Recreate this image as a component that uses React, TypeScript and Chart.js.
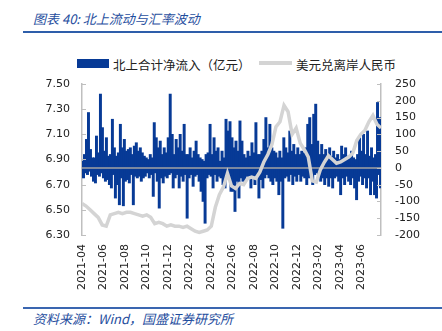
import React, { useEffect, useRef } from 'react';
import { Chart, registerables } from 'chart.js';

Chart.register(...registerables);

// x axis spans months from 2021-04 (0) to late 2023-07
const SPAN_MONTHS = 27.8;

const monthLabels = [
  '2021-04', '2021-06', '2021-08', '2021-10', '2021-12', '2022-02', '2022-04',
  '2022-06', '2022-08', '2022-10', '2022-12', '2023-02', '2023-04', '2023-06',
];

const leftTicks = [6.3, 6.5, 6.7, 6.9, 7.1, 7.3, 7.5];

// 北上合计净流入（亿元）, in time order
const netInflow = [
  20, -30, 40, -15, 85, -20, 165, -10, 55, -25, 30, -40, 30, -45, 95, -20, 45, -25, 220, -15,
  120, -30, 50, -40, 90, -35, 35, -50, 40, -60, 145, -20, 60, -90, 35, -50, 45, -110, 130, -30,
  60, -113, 85, -40, 50, -35, 55, -45, 60, -20, 40, -110, 65, -25, 75, -30, 50, -25, 60, -40,
  45, -30, 35, -25, 30, -15, 25, -30, 40, -20, 30, -85, 135, -15, 90, -40,
  60, -120, 80, -30, 40, -45, 60, -25, 45, -30, 90, -20, 220, -15, 100, -60, 40, -30, 85, -20,
  60, -60, 100, -25, 50, -40, 130, -20, 40, -150, 40, -30, 60, -20, 30, -55, 50, -25, 80, -20,
  40, -40, 30, -70, 25, -100, 20, -165, 40, -30, 45, -20, 130, -25, 40, -60, 90, -20, 50, -40,
  60, -25, 20, -30, 50, -50, 30, -60, 145, -20, 110, -30, 138, -70, 90, -70,
  60, -130, 80, -40, 50, -90, 140, -30, 80, -40, 40, -40, 30, -25, 50, -30, 35, -60, 75, -30,
  45, -50, 135, -25, 40, -90, 40, -35, 50, -60, 85, -30, 150, -20, 60, -30, 130, -40, 60, -50,
  50, -30, 45, -40, 30, -80, 50, -40, 30, -180, 90, -30, 60, -25, 45, -40, 110, -20, 50, -50,
  70, -25, 40, -40, 60, -20, 40, -40, 50, -25, 45, -30, 60, -50,
  130, -30, 150, -20, 70, -50, 160, -20, 190, -15, 80, -25, 40, -40, 70, -30, 40, -50, 55, -30,
  30, -55, 60, -30, 35, -60, 50, -30, 30, -25, 40, -40, 25, -80, 65, -30, 40, -50, 60, -25,
  35, -40, 30, -50, 50, -30, 30, -60, 25, -95, 40, -40, 90, -25, 50, -50, 100, -30, 40, -60,
  110, -30, 35, -80, 60, -40, 30, -80, 40, -90, 195, -20, 150, -60,
];

// 美元兑离岸人民币
const usdCnh = [
  6.55, 6.53, 6.50, 6.47, 6.44, 6.38, 6.37, 6.46, 6.47, 6.48, 6.47, 6.48, 6.48, 6.47, 6.46,
  6.45, 6.46, 6.44, 6.39, 6.40, 6.39, 6.37, 6.38, 6.37, 6.37, 6.36, 6.37, 6.35, 6.33, 6.32,
  6.33, 6.34, 6.37, 6.52, 6.62, 6.68, 6.79, 6.69, 6.67, 6.71, 6.70, 6.75, 6.76, 6.75, 6.80,
  6.88, 6.94, 7.02, 7.16, 7.20, 7.33, 7.28, 7.10, 7.15, 7.03, 6.98, 6.92, 6.73, 6.72, 6.82,
  6.88, 6.93, 6.90, 6.87, 6.88, 6.90, 6.92, 6.95, 7.05, 7.10, 7.13, 7.20, 7.25, 7.18, 7.15,
];

const BAR_COLOR = '#073a96';
const LINE_COLOR = '#d4d4d4';
const AXIS_COLOR = '#bfbfbf';
const TEXT_BLUE = '#1f4e9e';
const tickFont = { family: "'DejaVu Sans', Verdana, sans-serif", size: 11 };

export default function App() {
  const ref = useRef<HTMLCanvasElement>(null);

  useEffect(() => {
    if (!ref.current) return;
    const barStep = SPAN_MONTHS / netInflow.length;
    const lineStep = SPAN_MONTHS / (usdCnh.length - 1);
    const barData = netInflow.map((v, i) => ({ x: (i + 0.5) * barStep, y: v }));
    const lineData = usdCnh.map((v, i) => ({ x: i * lineStep, y: v }));

    const framePlugin = {
      id: 'frame',
      afterDatasetDraw(chart: any, args: any) {
        if (args.index !== 1) return;
        const { ctx, chartArea } = chart;
        const y0 = chart.scales.y1.getPixelForValue(0);
        ctx.save();
        ctx.strokeStyle = '#a3a3a3';
        ctx.lineWidth = 1.5;
        ctx.beginPath();
        ctx.moveTo(chartArea.left, y0);
        ctx.lineTo(chartArea.right, y0);
        ctx.stroke();
        ctx.restore();
      },
      afterDraw(chart: any) {
        const { ctx, chartArea } = chart;
        ctx.save();
        ctx.strokeStyle = AXIS_COLOR;
        ctx.lineWidth = 1;
        const sy = chart.scales.y;
        sy.ticks.forEach((t: any) => {
          const p = Math.round(sy.getPixelForValue(t.value)) + 0.5;
          ctx.beginPath();
          ctx.moveTo(chartArea.left, p);
          ctx.lineTo(chartArea.left + 4, p);
          ctx.stroke();
        });
        const sr = chart.scales.y1;
        sr.ticks.forEach((t: any) => {
          const p = Math.round(sr.getPixelForValue(t.value)) + 0.5;
          ctx.beginPath();
          ctx.moveTo(chartArea.right, p);
          ctx.lineTo(chartArea.right - 4, p);
          ctx.stroke();
        });
        ctx.restore();
      },
    };

    const chart = new Chart(ref.current, {
      type: 'bar',
      data: {
        datasets: [
          {
            type: 'line',
            label: '美元兑离岸人民币',
            data: lineData,
            yAxisID: 'y',
            borderColor: LINE_COLOR,
            backgroundColor: LINE_COLOR,
            borderWidth: 3.5,
            pointRadius: 0,
            tension: 0,
            order: 0,
          } as any,
          {
            type: 'bar',
            label: '北上合计净流入（亿元）',
            data: barData,
            yAxisID: 'y1',
            backgroundColor: BAR_COLOR,
            barThickness: 2.3,
            order: 1,
          } as any,
        ],
      },
      options: {
        animation: false,
        responsive: true,
        maintainAspectRatio: false,
        layout: { padding: { top: 44, left: 0, right: 0, bottom: 0 } },
        plugins: { legend: { display: false }, tooltip: { enabled: false } },
        scales: {
          x: {
            type: 'linear',
            min: 0,
            max: SPAN_MONTHS,
            offset: false,
            grid: { display: false, drawTicks: false },
            border: { display: false },
            ticks: {
              stepSize: 2,
              includeBounds: false,
              autoSkip: false,
              maxRotation: 90,
              minRotation: 90,
              padding: 9,
              font: tickFont,
              color: '#222',
              callback: (v: any) => {
                const n = Math.round(Number(v));
                if (Math.abs(n - Number(v)) > 1e-6 || n % 2 !== 0) return null;
                return monthLabels[n / 2] ?? null;
              },
            },
            afterFit: (s: any) => { s.height = 65; },
          },
          y: {
            type: 'linear',
            position: 'left',
            min: 6.3,
            max: 7.5,
            grid: { display: false, drawTicks: false },
            border: { display: true, color: AXIS_COLOR, width: 1.5 },
            ticks: {
              padding: 12,
              font: tickFont,
              color: '#222',
              callback: (v: any) => Number(v).toFixed(2),
            },
            afterBuildTicks: (s: any) => { s.ticks = leftTicks.map((v) => ({ value: v })); },
            afterFit: (s: any) => { s.width = 82; },
          },
          y1: {
            type: 'linear',
            position: 'right',
            min: -200,
            max: 250,
            grid: { display: false, drawTicks: false },
            border: { display: true, color: AXIS_COLOR, width: 1.5 },
            ticks: {
              stepSize: 50,
              padding: 14,
              font: tickFont,
              color: '#222',
            },
            afterFit: (s: any) => { s.width = 61; },
          },
        },
      } as any,
      plugins: [framePlugin],
    });
    return () => chart.destroy();
  }, []);

  const cjk = "'Noto Sans CJK SC', 'Noto Sans', sans-serif";

  return (
    <div style={{ position: 'fixed', left: 0, top: 0, width: 442, height: 331, background: '#fff', overflow: 'hidden' }}>
      <div style={{ position: 'absolute', left: 33, top: 9, lineHeight: '18px', font: `italic 13px ${cjk}`, color: TEXT_BLUE, whiteSpace: 'nowrap' }}>
        图表 40: 北上流动与汇率波动
      </div>
      <div style={{ position: 'absolute', left: 23, top: 31, width: 419, height: 2, background: '#2e5eaa' }} />

      <div style={{ position: 'absolute', left: 77, top: 59, width: 32, height: 9, background: BAR_COLOR }} />
      <div style={{ position: 'absolute', left: 113, top: 55, lineHeight: '16px', font: `12.5px ${cjk}`, color: '#222', whiteSpace: 'nowrap' }}>
        北上合计净流入（亿元）
      </div>
      <div style={{ position: 'absolute', left: 259, top: 61, width: 33, height: 4, background: LINE_COLOR }} />
      <div style={{ position: 'absolute', left: 296, top: 55, lineHeight: '16px', font: `12.5px ${cjk}`, color: '#222', whiteSpace: 'nowrap' }}>
        美元兑离岸人民币
      </div>

      <div style={{ position: 'absolute', left: 0, top: 40, width: 442, height: 260 }}>
        <canvas ref={ref} style={{ width: '100%', height: '100%' }} />
      </div>

      <div style={{ position: 'absolute', left: 23, top: 307, width: 419, height: 1.5, background: '#3a66b0' }} />
      <div style={{ position: 'absolute', left: 33, top: 309, lineHeight: '16px', font: `italic 13px ${cjk}`, color: TEXT_BLUE, whiteSpace: 'nowrap' }}>
        资料来源：Wind，国盛证券研究所
      </div>
    </div>
  );
}
